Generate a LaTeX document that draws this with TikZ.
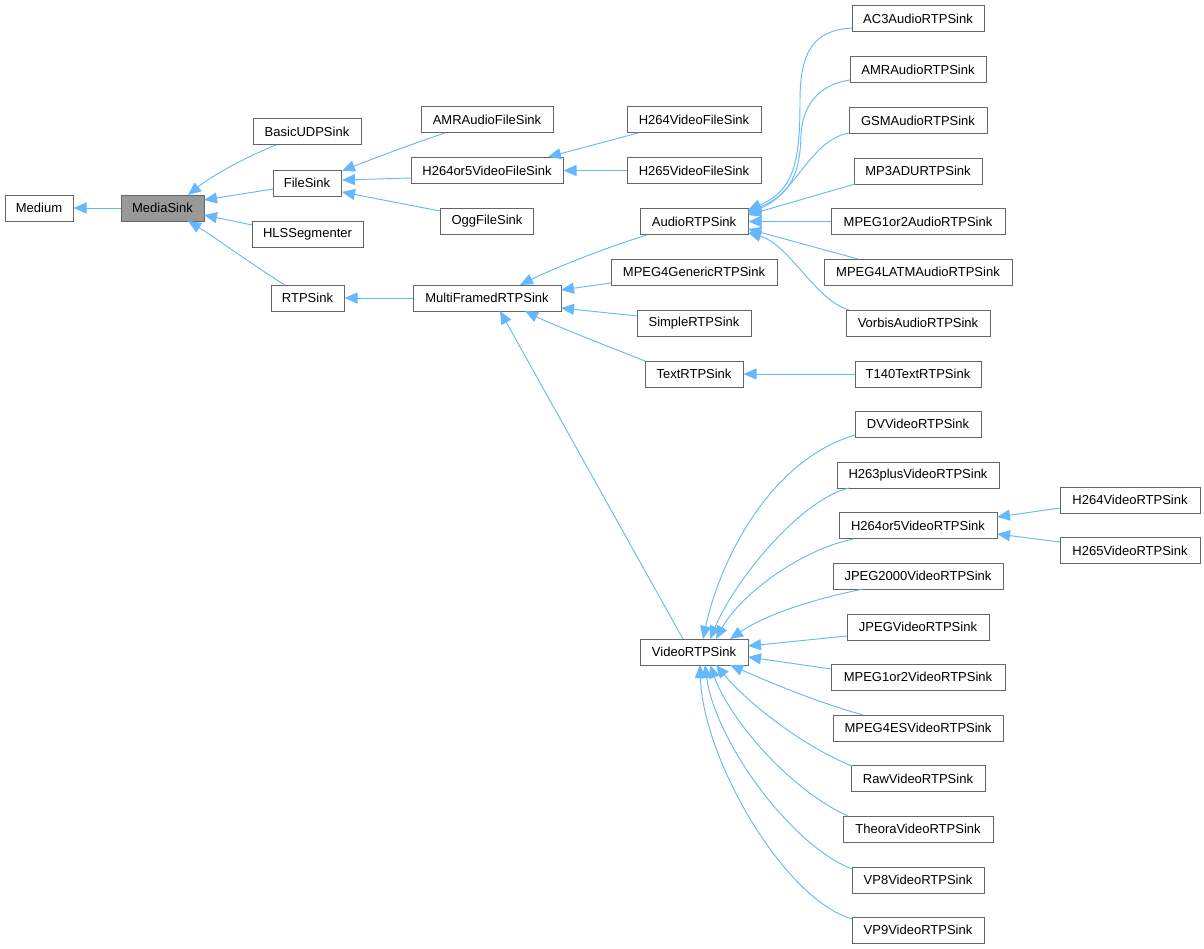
\documentclass[tikz,border=0pt]{standalone}
\usepackage{fontspec}
\setmainfont{Liberation Sans}
\usetikzlibrary{arrows.meta,calc}
\definecolor{edgeblue}{HTML}{63B8FF}
\definecolor{boxgray}{HTML}{666666}
\definecolor{fillgray}{HTML}{999999}
\begin{document}
\begin{tikzpicture}[x=0.75pt,y=-0.75pt,
  bx/.style={draw=boxgray, line width=0.75pt, fill=white, inner sep=0pt,
    minimum height=19.5pt, font=\fontsize{9.75}{11}\selectfont, text=black},
  bw/.style={minimum width=#1*0.75pt},
  ed/.style={draw=edgeblue, line width=0.7pt, -{Triangle[length=9.75pt,width=8.25pt]}}]
\useasboundingbox (0,0) rectangle (1204,949);
% column 1-2
\node[bx,bw=68] (medium) at (39,208) {Medium};
\node[bx,bw=83,fill=fillgray] (mediasink) at (162.5,208) {MediaSink};
% column 3
\node[bx,bw=108] (basicudp) at (307,132) {BasicUDPSink};
\node[bx,bw=68] (filesink) at (307,183) {FileSink};
\node[bx,bw=111] (hls) at (307.5,234) {HLSSegmenter};
\node[bx,bw=73] (rtpsink) at (307.5,298) {RTPSink};
% column 4
\node[bx,bw=132] (amrfile) at (487,120) {AMRAudioFileSink};
\node[bx,bw=152] (hfile) at (487,170.5) {H264or5VideoFileSink};
\node[bx,bw=93] (ogg) at (487,221.5) {OggFileSink};
\node[bx,bw=148] (mfrtp) at (487,298) {MultiFramedRTPSink};
% column 5
\node[bx,bw=134] (h264file) at (694,120) {H264VideoFileSink};
\node[bx,bw=134] (h265file) at (694,170.5) {H265VideoFileSink};
\node[bx,bw=108] (audio) at (694,221.5) {AudioRTPSink};
\node[bx,bw=166] (mpeg4gen) at (694,272) {MPEG4GenericRTPSink};
\node[bx,bw=114] (simple) at (694,323) {SimpleRTPSink};
\node[bx,bw=98] (text) at (694,374) {TextRTPSink};
\node[bx,bw=108] (video) at (694,652) {VideoRTPSink};
% column 6
\node[bx,bw=132] (ac3) at (918,18.5) {AC3AudioRTPSink};
\node[bx,bw=136] (amrrtp) at (918,70) {AMRAudioRTPSink};
\node[bx,bw=138] (gsm) at (918,120.5) {GSMAudioRTPSink};
\node[bx,bw=128] (mp3adu) at (918,171) {MP3ADURTPSink};
\node[bx,bw=174] (mpeg12a) at (918,221.5) {MPEG1or2AudioRTPSink};
\node[bx,bw=188] (latm) at (918,272) {MPEG4LATMAudioRTPSink};
\node[bx,bw=144] (vorbis) at (918,323) {VorbisAudioRTPSink};
\node[bx,bw=126] (t140) at (918,374) {T140TextRTPSink};
\node[bx,bw=126] (dv) at (918,424) {DVVideoRTPSink};
\node[bx,bw=162] (h263) at (918,475) {H263plusVideoRTPSink};
\node[bx,bw=158] (hrtp) at (918,525.5) {H264or5VideoRTPSink};
\node[bx,bw=170] (jpeg2000) at (918,576) {JPEG2000VideoRTPSink};
\node[bx,bw=142] (jpeg) at (918,627) {JPEGVideoRTPSink};
\node[bx,bw=174] (mpeg12v) at (918,677) {MPEG1or2VideoRTPSink};
\node[bx,bw=170] (mpeg4es) at (918,728) {MPEG4ESVideoRTPSink};
\node[bx,bw=134] (raw) at (918,778.5) {RawVideoRTPSink};
\node[bx,bw=150] (theora) at (918,829) {TheoraVideoRTPSink};
\node[bx,bw=132] (vp8) at (918,880) {VP8VideoRTPSink};
\node[bx,bw=132] (vp9) at (918,930) {VP9VideoRTPSink};
% column 7
\node[bx,bw=140] (h264rtp) at (1130,500) {H264VideoRTPSink};
\node[bx,bw=140] (h265rtp) at (1130,550.5) {H265VideoRTPSink};

% edges
\draw[ed] (mediasink.west) -- (medium.east);
\draw[ed] ($(basicudp)+(-31,13)$) .. controls +(-30,12) and +(25,-20) .. ($(mediasink)+(25.5,-13)$);
\draw[ed] ($(filesink)+(-34,6)$) -- ($(mediasink)+(41.5,-8)$);
\draw[ed] ($(hls)+(-55.5,-9)$) -- ($(mediasink)+(41.5,7)$);
\draw[ed] ($(rtpsink)+(-22.5,-13)$) .. controls +(-25,-15) and +(25,15) .. ($(mediasink)+(25.5,13)$);

\draw[ed] ($(amrfile)+(-42,13)$) .. controls +(-25,8) and +(25,-10) .. ($(filesink)+(35,-12)$);
\draw[ed] ($(hfile)+(-76,7.5)$) -- ($(filesink)+(35,-3)$);
\draw[ed] ($(ogg)+(-47,-10.5)$) -- ($(filesink)+(35,9)$);
\draw[ed] (mfrtp.west) -- (rtpsink.east);

\draw[ed] ($(h264file)+(-56,13)$) -- ($(hfile)+(61,-13.5)$);
\draw[ed] (h265file.west) -- (hfile.east);

\draw[ed] ($(audio)+(-47,13.5)$) .. controls +(-40,12) and +(30,-15) .. ($(mfrtp)+(33,-13)$);
\draw[ed] ($(mpeg4gen)+(-83,11)$) -- ($(mfrtp)+(74,-8)$);
\draw[ed] ($(simple)+(-57,-7)$) -- ($(mfrtp)+(74,10)$);
\draw[ed] ($(text)+(-49,-13)$) .. controls +(-25,-10) and +(30,15) .. ($(mfrtp)+(38,13)$);
\draw[ed] ($(video)+(-11,-13)$) -- ($(mfrtp)+(13,13)$);

% audio subclasses
\draw[ed] ($(ac3)+(-66,9.5)$) .. controls (815,30) and (800,50) .. (800,100)
  .. controls (800,160) and (795,190) .. ($(audio)+(54,-11.5)$);
\draw[ed] ($(amrrtp)+(-68,10)$) .. controls (815,85) and (802,110) .. (801,135)
  .. controls (800,175) and (790,195) .. ($(audio)+(54,-10)$);
\draw[ed] ($(gsm)+(-69,12.5)$) .. controls +(-39,7) and +(47,-18) .. ($(audio)+(54,-8.5)$);
\draw[ed] ($(mp3adu)+(-63,13)$) -- ($(audio)+(54,-6.5)$);
\draw[ed] (mpeg12a.west) -- (audio.east);
\draw[ed] ($(latm)+(-60,-13)$) -- ($(audio)+(54,7.5)$);
\draw[ed] ($(vorbis)+(-69,-13)$) .. controls +(-34,-10) and +(42,12.5) .. ($(audio)+(54,11)$);

\draw[ed] (t140.west) -- (text.east);

% video subclasses
\draw[ed] ($(dv)+(-63,11)$) .. controls +(-85,25) and +(17,-79) .. ($(video)+(9,-13)$);
\draw[ed] ($(h263)+(-69,13)$) .. controls +(-49,12) and +(25,-59) .. ($(video)+(16,-13)$);
\draw[ed] ($(hrtp)+(-65,13.5)$) .. controls +(-53,11) and +(24,-44) .. ($(video)+(22,-13)$);
\draw[ed] ($(jpeg2000)+(-55,13)$) .. controls +(-53,11) and +(35,-24) .. ($(video)+(36,-13)$);
\draw[ed] ($(jpeg)+(-71,9)$) -- ($(video)+(54,-6)$);
\draw[ed] ($(mpeg12v)+(-87,-8)$) -- ($(video)+(54,5)$);
\draw[ed] ($(mpeg4es)+(-55,-13)$) .. controls +(-53,-15) and +(35,15) .. ($(video)+(36,13)$);
\draw[ed] ($(raw)+(-66,-12.5)$) .. controls +(-52,-21) and +(29,35) .. ($(video)+(22,13)$);
\draw[ed] ($(theora)+(-70,-13)$) .. controls +(-58,-26) and +(20,55) .. ($(video)+(16,13)$);
\draw[ed] ($(vp8)+(-66,-11)$) .. controls +(-62,-24) and +(10,75) .. ($(video)+(11,13)$);
\draw[ed] ($(vp9)+(-66,-11)$) .. controls +(-67,-19) and +(3,95) .. ($(video)+(6,13)$);

\draw[ed] ($(h264rtp)+(-70,8)$) -- ($(hrtp)+(79,-8.5)$);
\draw[ed] ($(h265rtp)+(-70,-8.5)$) -- ($(hrtp)+(79,8.5)$);
\end{tikzpicture}
\end{document}
